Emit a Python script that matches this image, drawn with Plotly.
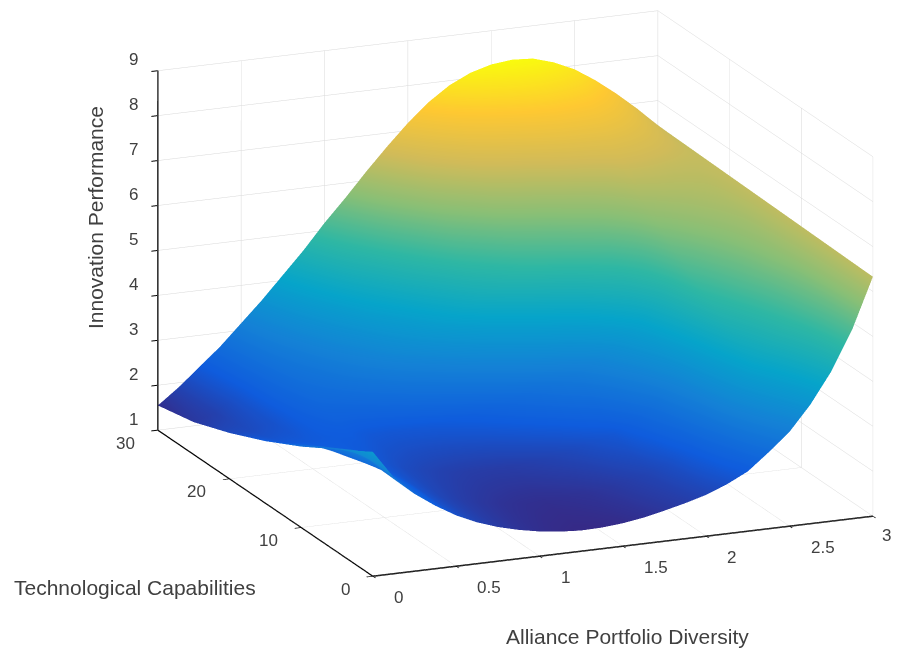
import plotly.graph_objects as go

diversity = [0, .125, .25, .375, .5, .625, .75, .875, 1, 1.125, 1.25, 1.375, 1.5, 1.625, 1.75, 1.875,
             2, 2.125, 2.25, 2.375, 2.5, 2.625, 2.75, 2.875, 3]
capabilities = [0, 5, 10, 15, 17.5, 20, 22.5, 25, 30]
perf_y0 = [3.77, 3.15, 2.72, 2.4, 2.13, 1.92, 1.76, 1.64, 1.55, 1.49, 1.46, 1.47, 1.51, 1.58, 1.68, 1.79,
           1.92, 2.1, 2.33, 2.7, 3.1, 3.65, 4.33, 5.2, 6.33]
perf_y5 = [3.28, 3.2, 2.75, 2.45, 2.15, 1.95, 1.81, 1.7, 1.62, 1.57, 1.55, 1.58, 1.62, 1.7, 1.81, 1.92,
           2.11, 2.41, 2.86, 3.46, 4.06, 4.52, 4.98, 5.54, 6.35]
perf_y10 = [2.8, 2.75, 2.5, 2.35, 2.2, 2.04, 1.93, 1.85, 1.8, 1.78, 1.79, 1.84, 1.91, 2.0, 2.12, 2.23,
            2.49, 2.84, 3.34, 4.0, 4.69, 5.08, 5.45, 5.84, 6.37]
perf_y15 = [2.38, 2.28, 2.28, 2.32, 2.34, 2.26, 2.23, 2.24, 2.27, 2.33, 2.41, 2.52, 2.65, 2.78, 2.93, 3.06,
            3.31, 3.65, 4.05, 4.6, 5.27, 5.56, 5.8, 6.04, 6.39]
perf_y17 = [2.2, 2.15, 2.2, 2.36, 2.49, 2.52, 2.59, 2.68, 2.82, 2.95, 3.12, 3.31, 3.51, 3.69, 3.86, 4.01,
            4.2, 4.46, 4.71, 5.09, 5.61, 5.83, 6.01, 6.16, 6.4]
perf_y20 = [2.02, 2.03, 2.14, 2.42, 2.65, 2.77, 2.94, 3.13, 3.36, 3.58, 3.83, 4.1, 4.37, 4.59, 4.8, 4.96,
            5.09, 5.26, 5.42, 5.69, 5.99, 6.11, 6.18, 6.26, 6.41]
perf_y22 = [1.87, 1.95, 2.14, 2.5, 2.76, 2.96, 3.2, 3.46, 3.76, 4.04, 4.35, 4.67, 5.0, 5.25, 5.49, 5.66,
            5.78, 5.94, 6.07, 6.23, 6.43, 6.43, 6.39, 6.38, 6.42]
perf_y25 = [1.72, 1.85, 2.15, 2.55, 2.88, 3.16, 3.48, 3.82, 4.19, 4.54, 4.92, 5.3, 5.69, 5.97, 6.24, 6.42,
            6.54, 6.69, 6.79, 6.83, 6.86, 6.79, 6.68, 6.54, 6.43]
perf_y30 = [1.55, 1.9, 2.3, 2.7, 3.16, 3.62, 4.12, 4.62, 5.17, 5.67, 6.2, 6.7, 7.17, 7.58, 7.9, 8.12,
            8.25, 8.3, 8.27, 8.13, 7.92, 7.62, 7.27, 6.88, 6.45]
performance = [perf_y0, perf_y5, perf_y10, perf_y15, perf_y17, perf_y20, perf_y22, perf_y25, perf_y30]

x_ticks = [0, .5, 1, 1.5, 2, 2.5, 3]
x_labels = ["0", "0.5", "1", "1.5", "2", "2.5", "3"]
y_ticks = [0, 10, 20, 30]
y_labels = ["0", "10", "20", "30"]
z_ticks = [1, 2, 3, 4, 5, 6, 7, 8, 9]
z_labels = ["1", "2", "3", "4", "5", "6", "7", "8", "9"]

parula = [[0, "#352a87"], [.125, "#0f5cdd"], [.25, "#1481d6"], [.375, "#06a4ca"], [.5, "#2eb7a4"],
          [.625, "#87bf77"], [.75, "#d1bb59"], [.875, "#fec832"], [1, "#f9fb0e"]]

FONT = "Liberation Sans"
TICK = dict(family=FONT, size=17, color="#404040")

def axis(vals, rng):
    return dict(range=rng, tickvals=vals, showticklabels=False, title=dict(text=""), showbackground=True,
                backgroundcolor="white", gridcolor="#d8d8d8", gridwidth=1, showline=True,
                linecolor="#000000", linewidth=3, zeroline=False, ticks="outside", ticklen=7,
                tickwidth=2, tickcolor="#000000", showspikes=False)

def title(text, px, py, angle=0, size=21):
    return dict(text=text, x=(px-8)/902, y=1-(py-8)/654, xref="paper", yref="paper", xanchor="center",
                yanchor="middle", showarrow=False, textangle=angle,
                font=dict(family=FONT, size=size, color="#404040"))

tick_notes = []
for v, t in zip(x_ticks[:-1], x_labels[:-1]):
    tick_notes.append(dict(x=v, y=0, z=1, text=t, showarrow=False, xanchor="left", yanchor="middle",
                           xshift=19, yshift=-21, font=TICK))
for v, t in zip(y_ticks, y_labels):
    tick_notes.append(dict(x=0, y=v, z=1, text=t, showarrow=False, xanchor="right", yanchor="middle",
                           xshift=-21, yshift=-13, font=TICK))
for v, t in zip(z_ticks, z_labels):
    tick_notes.append(dict(x=0, y=30, z=v, text=t, showarrow=False, xanchor="center", yanchor="middle",
                           xshift=-24, yshift=11, font=TICK))

fig = go.Figure(go.Surface(x=diversity, y=capabilities, z=performance, colorscale=parula,
                           cmin=1.46, cmax=8.3, showscale=False,
                           lighting=dict(ambient=1, diffuse=0, specular=0, roughness=1, fresnel=0)))
fig.update_layout(
    width=902, height=654, margin=dict(l=0, r=0, t=0, b=0), paper_bgcolor="white",
    scene=dict(
        domain=dict(x=[0, 1], y=[0, 1]),
        xaxis=axis(x_ticks, [0, 3]),
        yaxis=axis(y_ticks, [0, 30]),
        zaxis=axis(z_ticks, [1, 9]),
        aspectmode="manual", aspectratio=dict(x=1.659, y=1.697, z=1.147),
        camera=dict(projection=dict(type="orthographic"), up=dict(x=0, y=0, z=1),
                    center=dict(x=-0.187, y=0, z=-0.111),
                    eye=dict(x=-0.641, y=-1.08, z=0.238)),
        annotations=tick_notes,
    ),
    annotations=[
        title("Technological Capabilities", 135, 587),
        title("Alliance Portfolio Diversity", 627, 636),
        title("Innovation Performance", 95, 218, -90),
        title(x_labels[-1], 886, 535, size=17),
    ],
)
fig.write_html("out.html")
